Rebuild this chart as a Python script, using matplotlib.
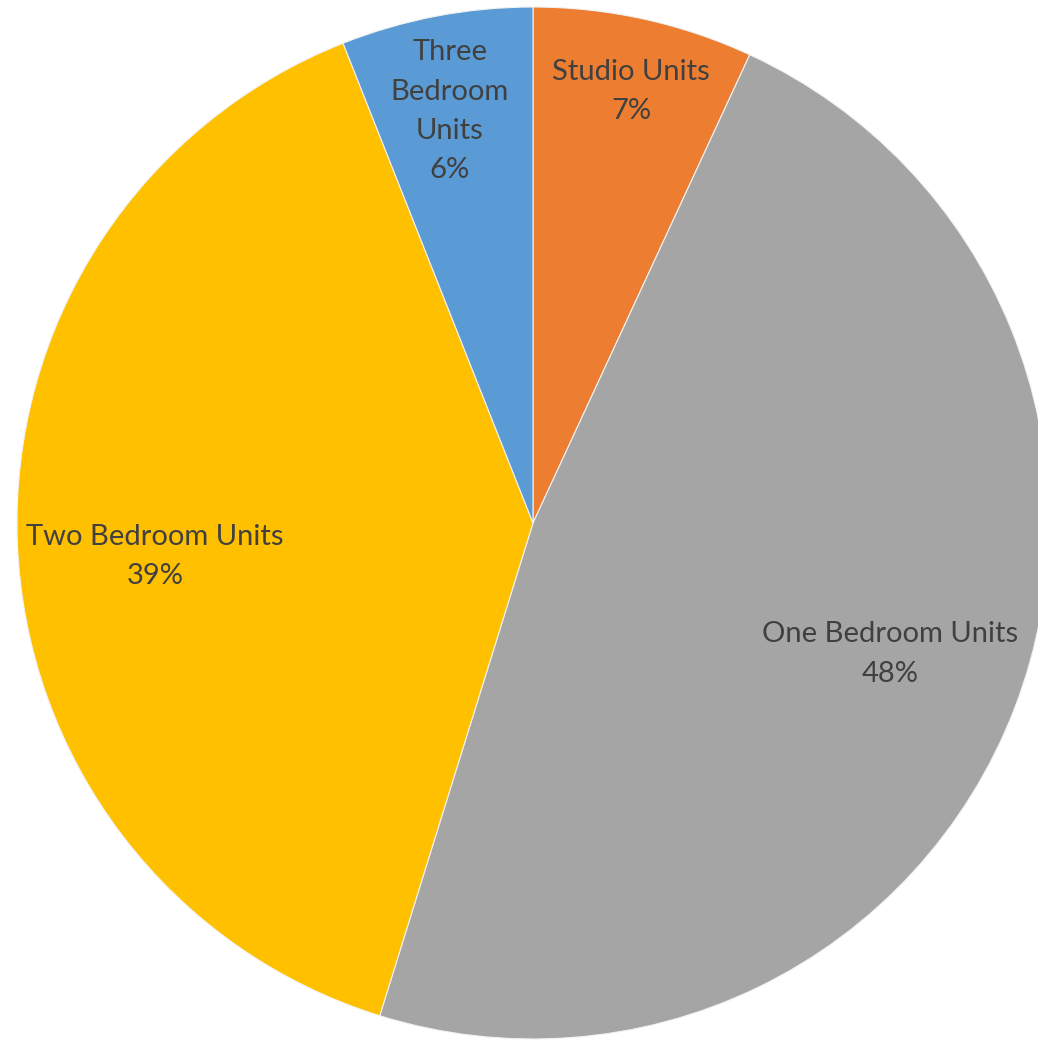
import numpy as np
import matplotlib
matplotlib.use("Agg")
import matplotlib.pyplot as plt

# Unit mix, share of total units (%), clockwise from 12 o'clock
categories = ["Studio Units", "One Bedroom Units", "Two Bedroom Units", "Three Bedroom Units"]
label_text = ["Studio Units", "One Bedroom Units", "Two Bedroom Units", "Three\nBedroom\nUnits"]
shares = [6.9, 47.9, 39.2, 6.0]
colors = ["#ED7D31", "#A5A5A5", "#FFC000", "#5B9BD5"]

# data label placement: fraction of the radius, and nudge off the wedge's mid-angle (deg)
label_radius = [0.858, 0.737, 0.735, 0.814]
label_nudge = [-0.4, 0.9, 2.9, 0.6]

W, H = 1038, 1041
fig = plt.figure(figsize=(W / 100, H / 100), dpi=100)
cx, cy, r = 533, H - 523, 516
ax = fig.add_axes([(cx - r) / W, (cy - r) / H, 2 * r / W, 2 * r / H])

wedges, _ = ax.pie(
    shares,
    colors=colors,
    startangle=90,
    counterclock=False,
    radius=1.0,
    wedgeprops=dict(edgecolor="#f2f2f2", linewidth=0.8),
)
ax.set_xlim(-1, 1)
ax.set_ylim(-1, 1)
ax.set_aspect("equal")
ax.axis("off")

total = sum(shares)
for w, text, val, dist, nudge in zip(wedges, label_text, shares, label_radius, label_nudge):
    mid = np.deg2rad((w.theta1 + w.theta2) / 2 + nudge)
    ax.text(
        dist * np.cos(mid),
        dist * np.sin(mid),
        f"{text}\n{val / total * 100:.0f}%",
        ha="center",
        va="center",
        multialignment="center",
        fontsize=21,
        family=["Lato", "DejaVu Sans"],
        color="#404040",
        linespacing=1.64,
    )

fig.savefig("out.png", dpi=100)
